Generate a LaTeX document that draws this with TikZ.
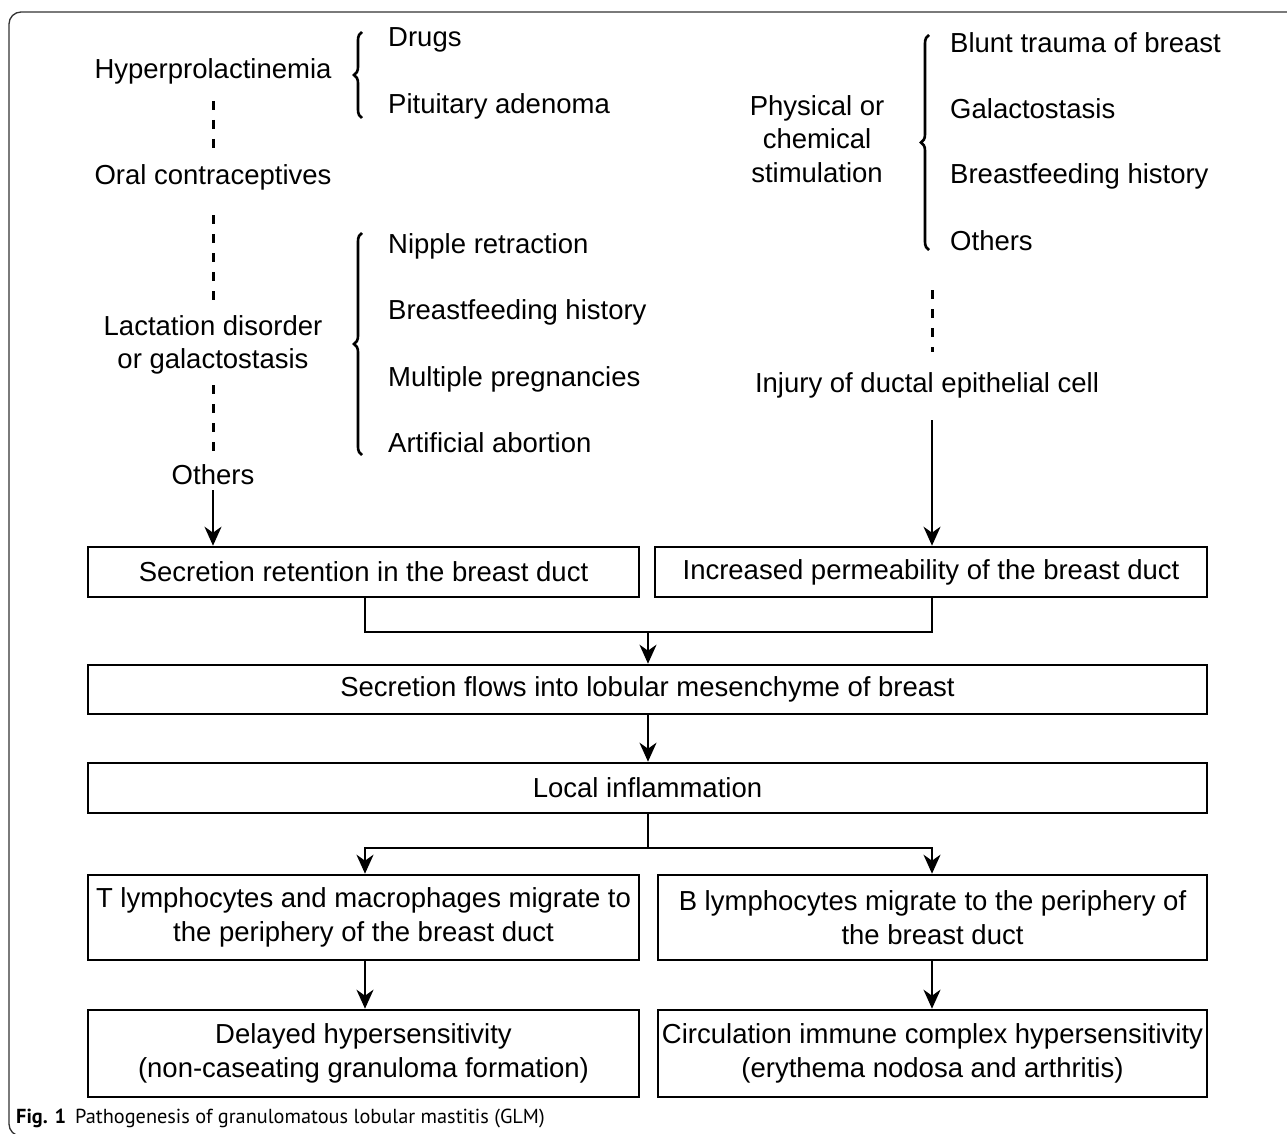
\documentclass[tikz,border=0pt]{standalone}
\usepackage{fontspec}
\setmainfont{Liberation Sans}
\newfontfamily\capfont{PT Sans}
\usetikzlibrary{arrows.meta,calc,decorations.pathreplacing}
\begin{document}
\begin{tikzpicture}[x=1pt,y=-1pt,
  txt/.style={inner sep=0pt,font=\fontsize{27.5}{33.5}\selectfont,align=center},
  lst/.style={txt,anchor=west},
  boxnode/.style={draw,line width=2.6pt,inner sep=0pt,font=\fontsize{27.5}{33.5}\selectfont,align=center},
  arr/.style={line width=2.3pt,-{Stealth[length=19pt,width=17pt,inset=6pt]}},
  ln/.style={line width=2.3pt},
  dsh/.style={line width=3pt,dash pattern=on 9pt off 10pt},
  brc/.style={line width=2.6pt,decorate,decoration={brace,amplitude=8pt,raise=0pt}}]
\useasboundingbox (0,0) rectangle (1287,1134);
\begin{scope}
\clip (0,0) rectangle (1287,1134);
\draw[line width=1.3pt,color=black!80,rounded corners=12pt] (9,12) rectangle (1310,1136);
\end{scope}

% left column
\node[txt] (hyper) at (213,71) {Hyperprolactinemia};
\node[txt] (oral) at (213,177) {Oral contraceptives};
\node[txt] (lact) at (213,345) {Lactation disorder\\or galactostasis};
\node[txt] (oth1) at (213,475) {Others};
\node[lst] (drugs) at (388,40) {Drugs};
\node[lst] (pitu) at (388,106) {Pituitary adenoma};
\node[lst] (nip) at (388,246) {Nipple retraction};
\node[lst] (bf1) at (388,312) {Breastfeeding history};
\node[lst] (mult) at (388,379) {Multiple pregnancies};
\node[lst] (abort) at (388,443) {Artificial abortion};
\draw[brc] (362,118) -- (362,32);
\draw[brc] (362,455) -- (362,233);

% right column
\node[txt] (phys) at (817,139) {Physical or\\chemical\\stimulation};
\node[lst] (blunt) at (950,43) {Blunt trauma of breast};
\node[lst] (gal) at (950,109) {Galactostasis};
\node[lst] (bf2) at (950,176) {Breastfeeding history};
\node[lst] (oth2) at (950,241) {Others};
\draw[brc] (929,250) -- (929,35);
\node[txt] (inj) at (927,385) {Injury of ductal epithelial cell};
\coordinate (pe) at (932,290);

% boxes
\node[boxnode,minimum width=551pt,minimum height=50pt] (b1) at (363.5,572) {Secretion retention in the breast duct};
\node[boxnode,minimum width=552pt,minimum height=50pt] (b2) at (931,572) {Increased permeability of the breast duct};
\node[boxnode,minimum width=1119pt,minimum height=49pt] (b3) at (647.5,689.5) {Secretion flows into lobular mesenchyme of breast};
\node[boxnode,minimum width=1119pt,minimum height=50pt] (b4) at (647.5,788) {Local inflammation};
\node[boxnode,minimum width=551pt,minimum height=85pt] (b5) at (363.5,917.5) {T lymphocytes and macrophages migrate to\\the periphery of the breast duct};
\node[boxnode,minimum width=549pt,minimum height=85pt] (b6) at (932.5,917.5) {B lymphocytes migrate to the periphery of\\the breast duct};
\node[boxnode,minimum width=551pt,minimum height=87pt] (b7) at (363.5,1053.5) {Delayed hypersensitivity\\(non-caseating granuloma formation)};
\node[boxnode,minimum width=549pt,minimum height=87pt] (b8) at (932.5,1053.5) {Circulation immune complex hypersensitivity\\(erythema nodosa and arthritis)};

% dashed links
\draw[dsh] ($(hyper.center)+(0,30)$) -- ($(oral.center)+(0,-29)$);
\draw[dsh] ($(oral.center)+(0,38)$) -- ($(lact.center)+(0,-40)$);
\draw[dsh] ($(lact.center)+(0,40)$) -- ($(oth1.center)+(0,-23)$);
\draw[dsh] (pe) -- ($(inj.center)+(5,-33)$);

% arrows
\draw[arr] ($(oth1.center)+(0,15)$) -- (oth1.center |- b1.north);
\draw[arr] ($(inj.center)+(5,35)$) -- ($(b2.north)+(1,0)$);
\coordinate (m1) at (648,632);
\draw[ln] ($(b1.south)+(1.5,0)$) |- (m1) -| ($(b2.south)+(1,0)$);
\draw[arr] (m1) -- (m1 |- b3.north);
\draw[arr] ($(b3.south)+(0.5,0)$) -- ($(b4.north)+(0.5,0)$);
\coordinate (m2) at (648,848);
\draw[ln] ($(b4.south)+(0.5,0)$) -- (m2);
\draw[arr] (m2) -| ($(b5.north)+(1.5,0)$);
\draw[arr] (m2) -| ($(b6.north)+(-0.5,0)$);
\draw[arr] ($(b5.south)+(1.5,0)$) -- ($(b7.north)+(1.5,0)$);
\draw[arr] ($(b6.south)+(-0.5,0)$) -- ($(b8.north)+(-0.5,0)$);

% caption
\node[anchor=base west,inner sep=0pt,font=\capfont\fontsize{20.3}{24}\selectfont] (cap) at (16,1123) {\textbf{Fig. 1}\hspace{9pt}Pathogenesis of granulomatous lobular mastitis (GLM)};
\end{tikzpicture}
\end{document}
